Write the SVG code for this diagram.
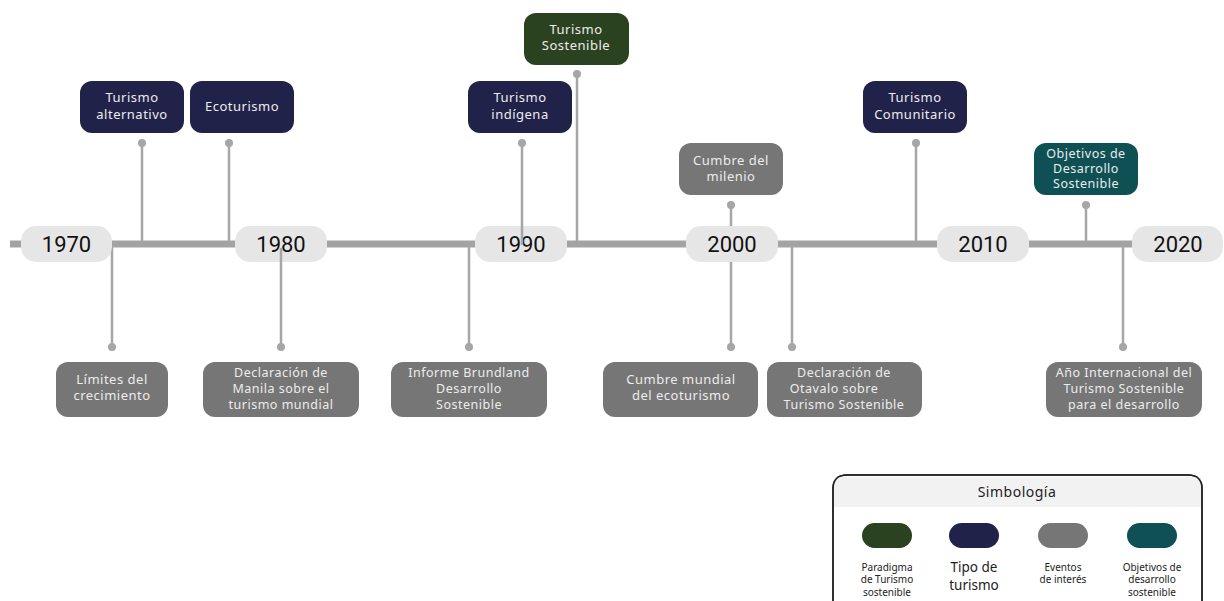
<svg xmlns="http://www.w3.org/2000/svg" width="1224" height="601" viewBox="0 0 1224 601">
<style>
.bar{stroke:#a3a3a3;stroke-width:7;fill:none}
.con{stroke:#a6a6a6;stroke-width:2.5;fill:none}
.dot{fill:#a6a6a6}
.year{fill:#e6e6e6}
.yt{font-family:Roboto,"Liberation Sans",sans-serif;font-size:22px;fill:#111;text-anchor:middle}
.nt{font-family:"Noto Sans","Liberation Sans",sans-serif;font-size:13px;letter-spacing:0.5px;fill:#ececec;text-anchor:middle}
.sm{font-size:12.5px}
.navy{fill:#212249}
.green{fill:#2b4220}
.gray{fill:#767676}
.teal{fill:#0e5054}
.lt{font-family:"Noto Sans","Liberation Sans",sans-serif;font-size:10px;fill:#222;text-anchor:middle}
.lb{font-size:13.5px}
</style>
<rect width="1224" height="601" fill="#ffffff"/>
<g id="connectors">
<line class="bar" x1="10" y1="244" x2="1140" y2="244"/>
<line class="con" x1="142" y1="143" x2="142" y2="241"/><circle class="dot" cx="142" cy="143" r="4"/>
<line class="con" x1="229" y1="143" x2="229" y2="241"/><circle class="dot" cx="229" cy="143" r="4"/>
<line class="con" x1="577" y1="74" x2="577" y2="241"/><circle class="dot" cx="577" cy="74" r="4"/>
<line class="con" x1="731" y1="205" x2="731" y2="230"/><circle class="dot" cx="731" cy="205" r="4"/>
<line class="con" x1="916" y1="143" x2="916" y2="241"/><circle class="dot" cx="916" cy="143" r="4"/>
<line class="con" x1="1086" y1="205" x2="1086" y2="241"/><circle class="dot" cx="1086" cy="205" r="4"/>
<line class="con" x1="112" y1="247" x2="112" y2="347"/><circle class="dot" cx="112" cy="347" r="4"/>
<line class="con" x1="469" y1="247" x2="469" y2="347"/><circle class="dot" cx="469" cy="347" r="4"/>
<line class="con" x1="731" y1="260" x2="731" y2="347"/><circle class="dot" cx="731" cy="347" r="4"/>
<line class="con" x1="792" y1="247" x2="792" y2="347"/><circle class="dot" cx="792" cy="347" r="4"/>
<line class="con" x1="1123" y1="247" x2="1123" y2="347"/><circle class="dot" cx="1123" cy="347" r="4"/>
</g>
<g id="y1970"><rect class="year" x="21" y="226" width="91" height="36" rx="15"/><text class="yt" x="66.5" y="252">1970</text></g>
<g id="y1980"><rect class="year" x="235" y="226" width="92" height="36" rx="15"/><text class="yt" x="281" y="252">1980</text></g>
<g id="y1990"><rect class="year" x="475" y="226" width="92" height="36" rx="15"/><text class="yt" x="521" y="252">1990</text></g>
<g id="y2000"><rect class="year" x="686" y="226" width="92" height="36" rx="15"/><text class="yt" x="732" y="252">2000</text></g>
<g id="y2010"><rect class="year" x="937" y="226" width="92" height="36" rx="15"/><text class="yt" x="983" y="252">2010</text></g>
<g id="y2020"><rect class="year" x="1132" y="226" width="91" height="36" rx="15"/><text class="yt" x="1178" y="252">2020</text></g>
<g id="overlays">
<line class="con" x1="281" y1="248" x2="281" y2="347"/><circle class="dot" cx="281" cy="347" r="4"/>
<line class="con" x1="522" y1="143" x2="522" y2="245"/><circle class="dot" cx="522" cy="143" r="4"/>
</g>
<g id="n-alternativo"><rect class="navy" x="80" y="81" width="104" height="52" rx="12"/><text class="nt" x="132" y="102">Turismo</text><text class="nt" x="132" y="119">alternativo</text></g>
<g id="n-ecoturismo"><rect class="navy" x="190" y="81" width="104" height="52" rx="12"/><text class="nt" x="242" y="111">Ecoturismo</text></g>
<g id="n-indigena"><rect class="navy" x="468" y="81" width="104" height="52" rx="12"/><text class="nt" x="520" y="102">Turismo</text><text class="nt" x="520" y="119">indígena</text></g>
<g id="n-sostenible"><rect class="green" x="524" y="13" width="105" height="52" rx="12"/><text class="nt" x="576" y="34">Turismo</text><text class="nt" x="576" y="50">Sostenible</text></g>
<g id="n-milenio"><rect class="gray" x="679" y="143" width="104" height="52" rx="12"/><text class="nt" x="731" y="165">Cumbre del</text><text class="nt" x="731" y="181">milenio</text></g>
<g id="n-comunitario"><rect class="navy" x="863" y="81" width="104" height="52" rx="12"/><text class="nt" x="915" y="102">Turismo</text><text class="nt" x="915" y="119">Comunitario</text></g>
<g id="n-ods"><rect class="teal" x="1034" y="143" width="104" height="52" rx="12"/><text class="nt sm" x="1086" y="158">Objetivos de</text><text class="nt sm" x="1086" y="173">Desarrollo</text><text class="nt sm" x="1086" y="188">Sostenible</text></g>
<g id="n-limites"><rect class="gray" x="56" y="362" width="112" height="55" rx="12"/><text class="nt" x="112" y="384">Límites del</text><text class="nt" x="112" y="400">crecimiento</text></g>
<g id="n-manila"><rect class="gray" x="203" y="362" width="156" height="55" rx="12"/><text class="nt sm" x="281" y="377">Declaración de</text><text class="nt sm" x="281" y="393">Manila sobre el</text><text class="nt sm" x="281" y="409">turismo mundial</text></g>
<g id="n-brundland"><rect class="gray" x="391" y="362" width="156" height="55" rx="12"/><text class="nt sm" x="469" y="377">Informe Brundland</text><text class="nt sm" x="469" y="393">Desarrollo</text><text class="nt sm" x="469" y="409">Sostenible</text></g>
<g id="n-ecoturismo-cumbre"><rect class="gray" x="603" y="362" width="155" height="55" rx="12"/><text class="nt" x="681" y="384">Cumbre mundial</text><text class="nt" x="681" y="400">del ecoturismo</text></g>
<g id="n-otavalo"><rect class="gray" x="767" y="362" width="155" height="55" rx="12"/><text class="nt sm" x="844" y="377">Declaración de</text><text class="nt sm" x="834" y="393">Otavalo sobre</text><text class="nt sm" x="844" y="409">Turismo Sostenible</text></g>
<g id="n-anio"><rect class="gray" x="1046" y="362" width="156" height="55" rx="12"/><text class="nt sm" x="1124" y="377">Año Internacional del</text><text class="nt sm" x="1124" y="393">Turismo Sostenible</text><text class="nt sm" x="1124" y="409">para el desarrollo</text></g>
<g id="legend">
<path d="M833,610 V489 Q833,475 847,475 H1188 Q1202,475 1202,489 V610" fill="#ffffff" stroke="#222" stroke-width="1.5"/>
<rect x="834" y="477" width="367" height="30" fill="#f2f2f2"/>
<path d="M833,610 V489 Q833,475 847,475 H1188 Q1202,475 1202,489 V610" fill="none" stroke="#222" stroke-width="1.5"/>
<text x="1017" y="497" font-family="'Noto Sans','Liberation Sans',sans-serif" font-size="14" letter-spacing="0.5" fill="#222" text-anchor="middle">Simbología</text>
<rect class="green" x="862" y="523" width="50" height="25" rx="12.5"/>
<rect class="navy" x="949" y="523" width="50" height="25" rx="12.5"/>
<rect class="gray" x="1038" y="523" width="50" height="25" rx="12.5"/>
<rect class="teal" x="1127" y="523" width="50" height="25" rx="12.5"/>
<text class="lt" x="887" y="571">Paradigma</text><text class="lt" x="887" y="583">de Turismo</text><text class="lt" x="887" y="596">sostenible</text>
<text class="lt lb" x="974" y="572">Tipo de</text><text class="lt lb" x="974" y="590">turismo</text>
<text class="lt" x="1063" y="571">Eventos</text><text class="lt" x="1063" y="583">de interés</text>
<text class="lt" x="1152" y="571">Objetivos de</text><text class="lt" x="1152" y="583">desarrollo</text><text class="lt" x="1152" y="596">sostenible</text>
</g>
</svg>
